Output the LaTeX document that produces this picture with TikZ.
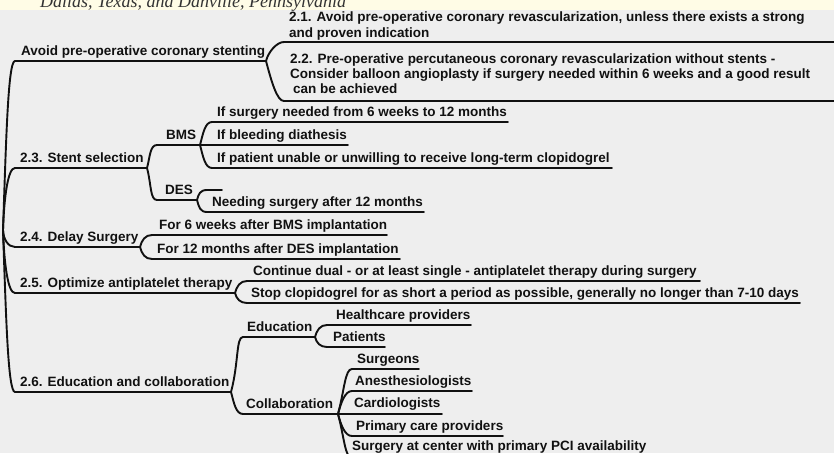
\documentclass[tikz,border=0pt]{standalone}
\usepackage{fontspec}
\setmainfont{Liberation Sans}
\newfontfamily\hdrfont{Liberation Serif}
\definecolor{bg}{HTML}{EEEEEE}
\definecolor{cream}{HTML}{FFFCE6}
\definecolor{ink}{HTML}{111111}
\begin{document}
\begin{tikzpicture}[x=1pt,y=-1pt,
  txt/.style={anchor=base west,inner sep=0pt,text=ink,font=\fontsize{13.5}{16}\selectfont\bfseries},
  ln/.style={line width=1.9pt,draw=ink,line cap=round},
  up/.style={out=75,in=180,out distance=#1,in distance=7pt},
  dn/.style={out=-75,in=180,out distance=#1,in distance=7pt},
  rup/.style={out=88,in=180,out distance=#1,in distance=7pt},
  rdn/.style={out=-88,in=180,out distance=#1,in distance=7pt}]
\useasboundingbox (0,0) rectangle (834,453);
\fill[bg] (0,0) rectangle (834,453);
\fill[cream] (0,0) rectangle (834,10);
\begin{scope}
\clip (0,0) rectangle (834,453);
\begin{scope}
\clip (0,0) rectangle (834,10);
\node[anchor=base west,inner sep=0pt,font=\hdrfont\itshape\fontsize{18}{18}\selectfont,text=black!80] (hdr) at (40,7) {Dallas, Texas, and Danville, Pennsylvania};
\end{scope}

% ---------- coordinates of underline ends ----------
\coordinate (root) at (3,230);
\coordinate (a-s) at (15,61);   \coordinate (a-e) at (266,61);
\coordinate (a1-s) at (284,42); \coordinate (a1-e) at (834,42);
\coordinate (a2-s) at (284,101);\coordinate (a2-e) at (834,101);
\coordinate (s-s) at (15,168);  \coordinate (s-e) at (147,168);
\coordinate (bms-s) at (157,145); \coordinate (bms-e) at (200,145);
\coordinate (b1-s) at (212,122); \coordinate (b1-e) at (508,122);
\coordinate (b2-s) at (212,145); \coordinate (b2-e) at (348,145);
\coordinate (b3-s) at (212,168); \coordinate (b3-e) at (612,168);
\coordinate (des-s) at (157,200); \coordinate (des-e) at (197,200);
\coordinate (stub-s) at (207,190); \coordinate (stub-e) at (222,190);
\coordinate (d1-s) at (207,212); \coordinate (d1-e) at (424,212);
\coordinate (ds-s) at (15,247); \coordinate (ds-e) at (140,247);
\coordinate (ds1-s) at (152,235); \coordinate (ds1-e) at (387,235);
\coordinate (ds2-s) at (152,259); \coordinate (ds2-e) at (400,259);
\coordinate (ap-s) at (15,293); \coordinate (ap-e) at (235,293);
\coordinate (ap1-s) at (247,281); \coordinate (ap1-e) at (700,281);
\coordinate (ap2-s) at (247,303); \coordinate (ap2-e) at (800,303);
\coordinate (ec-s) at (15,392); \coordinate (ec-e) at (231,392);
\coordinate (ed-s) at (243,337); \coordinate (ed-e) at (315,337);
\coordinate (ed1-s) at (327,325); \coordinate (ed1-e) at (471,325);
\coordinate (ed2-s) at (327,347); \coordinate (ed2-e) at (385,347);
\coordinate (col-s) at (243,414); \coordinate (col-e) at (338,414);
\coordinate (c1-s) at (352,369); \coordinate (c1-e) at (419,369);
\coordinate (c2-s) at (352,391); \coordinate (c2-e) at (472,391);
\coordinate (c3-s) at (345,414); \coordinate (c3-e) at (442,414);
\coordinate (c4-s) at (352,436); \coordinate (c4-e) at (503,436);
\coordinate (c5-s) at (352,458); \coordinate (c5-e) at (650,458);

% ---------- texts ----------
\node[txt] (a) at (21,55.5) {Avoid pre-operative coronary stenting};
\node[txt] (a1) at (289,21.5) {2.1. Avoid pre-operative coronary revascularization, unless there exists a strong};
\node[txt] (a1b) at (289,37.5) {and proven indication};
\node[txt] (a2) at (290,63.5) {2.2. Pre-operative percutaneous coronary revascularization without stents -};
\node[txt] (a2b) at (290,78.5) {Consider balloon angioplasty if surgery needed within 6 weeks and a good result};
\node[txt] (a2c) at (293,93.5) {can be achieved};
\node[txt] (s) at (20,162.5) {2.3. Stent selection};
\node[txt] (bms) at (166,139.5) {BMS};
\node[txt] (b1) at (217,116.5) {If surgery needed from 6 weeks to 12 months};
\node[txt] (b2) at (217,139.5) {If bleeding diathesis};
\node[txt] (b3) at (217,162.5) {If patient unable or unwilling to receive long-term clopidogrel};
\node[txt] (des) at (165,194.5) {DES};
\node[txt] (d1) at (212,206.5) {Needing surgery after 12 months};
\node[txt] (ds) at (20,241.5) {2.4. Delay Surgery};
\node[txt] (ds1) at (159,229.5) {For 6 weeks after BMS implantation};
\node[txt] (ds2) at (157,253.5) {For 12 months after DES implantation};
\node[txt] (ap) at (20,287.5) {2.5. Optimize antiplatelet therapy};
\node[txt] (ap1) at (253,275.5) {Continue dual - or at least single - antiplatelet therapy during surgery};
\node[txt] (ap2) at (251,297.5) {Stop clopidogrel for as short a period as possible, generally no longer than 7-10 days};
\node[txt] (ec) at (20,386.5) {2.6. Education and collaboration};
\node[txt] (ed) at (247,331.5) {Education};
\node[txt] (ed1) at (336,319.5) {Healthcare providers};
\node[txt] (ed2) at (333,341.5) {Patients};
\node[txt] (col) at (246,408.5) {Collaboration};
\node[txt] (c1) at (357,363.5) {Surgeons};
\node[txt] (c2) at (355,385.5) {Anesthesiologists};
\node[txt] (c3) at (354,407.5) {Cardiologists};
\node[txt] (c4) at (356,430.5) {Primary care providers};
\node[txt] (c5) at (352,450.5) {Surgery at center with primary PCI availability};

% ---------- underlines ----------
\foreach \n in {a,a1,a2,s,bms,b1,b2,b3,des,stub,d1,ds,ds1,ds2,ap,ap1,ap2,ec,ed,ed1,ed2,col,c1,c2,c3,c4,c5}
  \draw[ln] (\n-s) -- (\n-e);

% ---------- connectors ----------
\draw[ln] (root) to[rup=90] (a-s);
\draw[ln] (root) to[rup=34] (s-s);
\draw[ln] (root) to[rdn=9] (ds-s);
\draw[ln] (root) to[rdn=35] (ap-s);
\draw[ln] (root) to[rdn=88] (ec-s);

\draw[ln] (a-e) to[up=10] (a1-s);
\draw[ln] (a-e) to[dn=22] (a2-s);

\draw[ln] (s-e) to[up=12] (bms-s);
\draw[ln] (s-e) to[dn=17] (des-s);
\draw[ln] (bms-e) to[up=12] (b1-s);
\draw[ln] (bms-e) -- (b2-s);
\draw[ln] (bms-e) to[dn=12] (b3-s);
\draw[ln] (des-e) to[up=6] (stub-s);
\draw[ln] (des-e) to[dn=7] (d1-s);

\draw[ln] (ds-e) to[up=7] (ds1-s);
\draw[ln] (ds-e) to[dn=7] (ds2-s);

\draw[ln] (ap-e) to[up=7] (ap1-s);
\draw[ln] (ap-e) to[dn=6] (ap2-s);

\draw[ln] (ec-e) to[up=30] (ed-s);
\draw[ln] (ec-e) to[dn=12] (col-s);
\draw[ln] (ed-e) to[up=7] (ed1-s);
\draw[ln] (ed-e) to[dn=6] (ed2-s);
\draw[ln] (col-e) to[up=25] (c1-s);
\draw[ln] (col-e) to[up=12] (c2-s);
\draw[ln] (col-e) -- (c3-s);
\draw[ln] (col-e) to[dn=12] (c4-s);
\draw[ln] (col-e) to[dn=24] (c5-s);
\end{scope}
\end{tikzpicture}
\end{document}
